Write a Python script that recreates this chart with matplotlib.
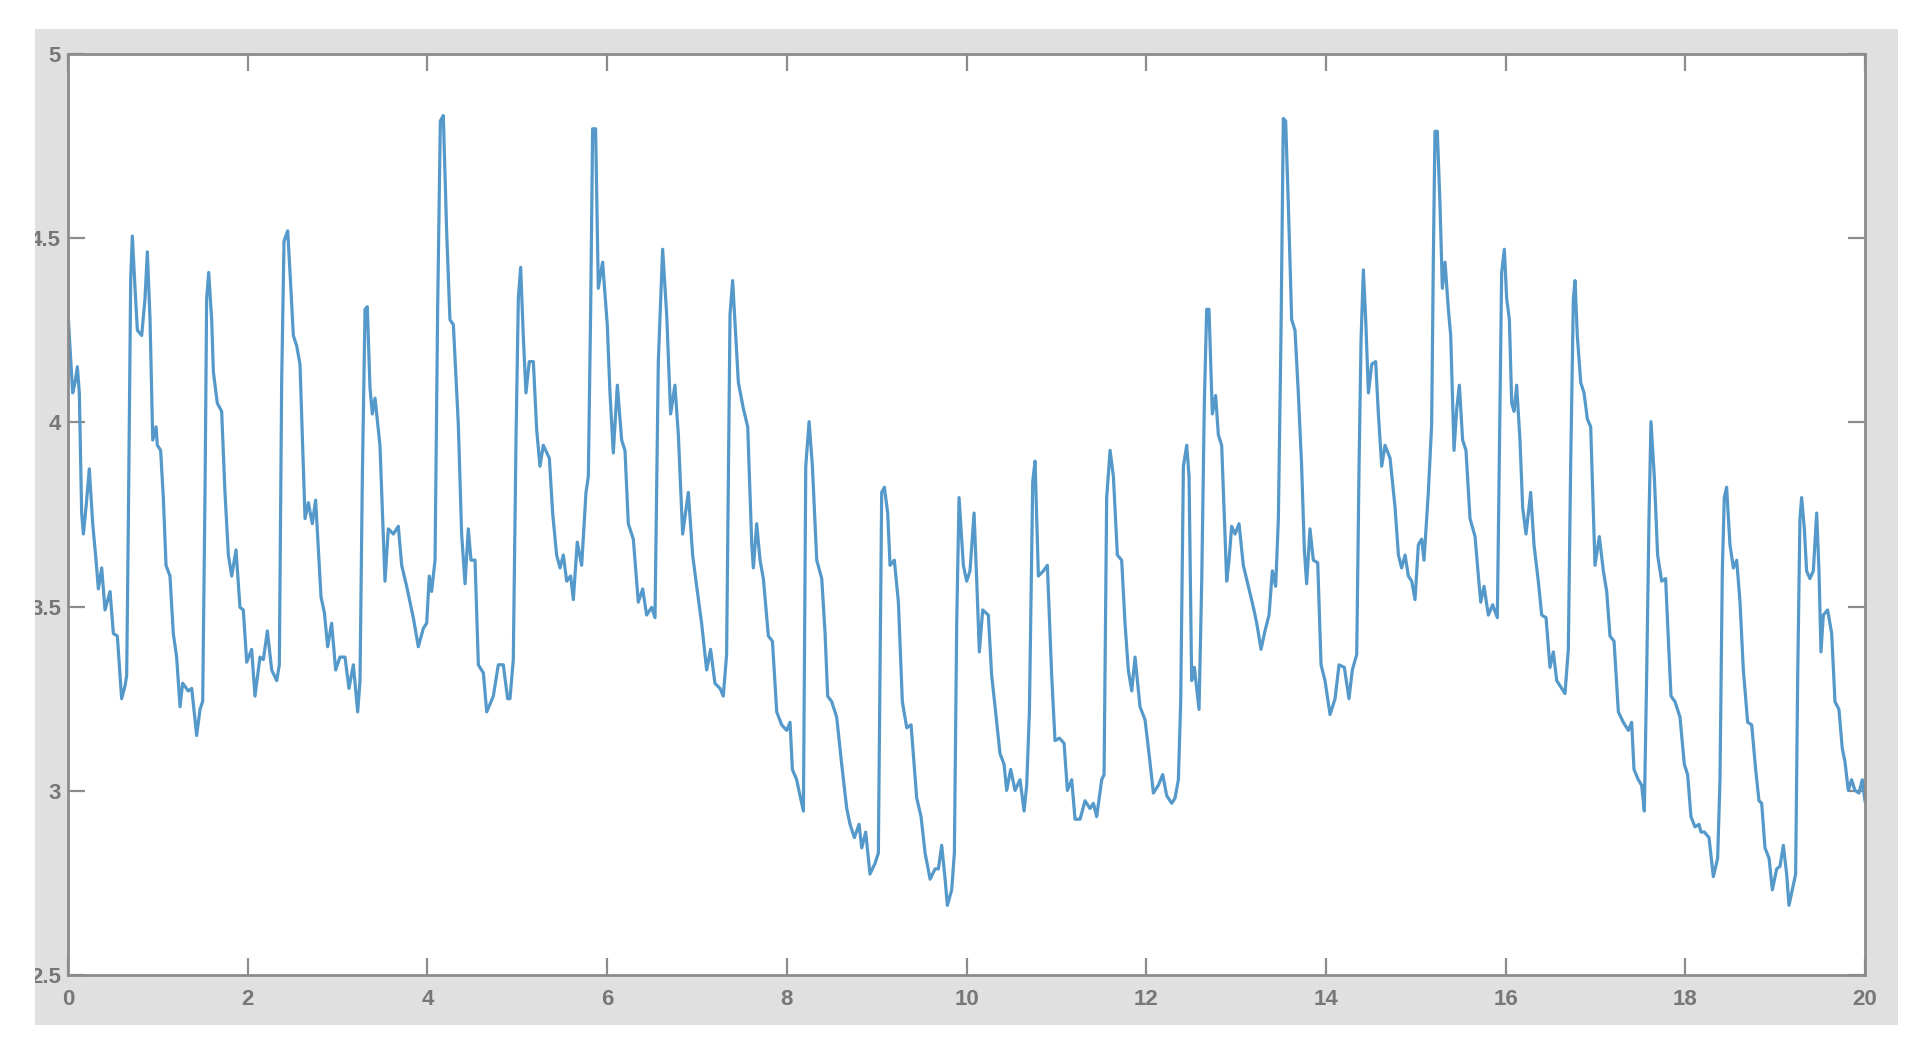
import matplotlib.pyplot as plt
from matplotlib.patches import Rectangle

# signal, time in s
t_s = [
    0.004, 0.052, 0.078, 0.104, 0.126, 0.152, 0.171, 0.200, 0.237, 0.275,
    0.312, 0.338, 0.375, 0.412, 0.468, 0.505, 0.549, 0.597, 0.635, 0.653,
    0.672, 0.698, 0.716, 0.746, 0.772, 0.820, 0.857, 0.883, 0.913, 0.943,
    0.980, 0.994, 1.031, 1.061, 1.091, 1.135, 1.172, 1.209, 1.247, 1.276,
    1.339, 1.377, 1.432, 1.469, 1.499, 1.525, 1.543, 1.566, 1.599, 1.618,
    1.662, 1.710, 1.747, 1.785, 1.822, 1.870, 1.914, 1.951, 1.989, 2.044,
    2.081, 2.137, 2.174, 2.219, 2.267, 2.323, 2.352, 2.378, 2.404, 2.445,
    2.471, 2.508, 2.545, 2.582, 2.638, 2.675, 2.719, 2.756, 2.816, 2.853,
    2.890, 2.934, 2.979, 3.027, 3.083, 3.127, 3.176, 3.202, 3.224, 3.250,
    3.276, 3.306, 3.331, 3.361, 3.387, 3.417, 3.472, 3.528, 3.565, 3.621,
    3.676, 3.714, 3.769, 3.843, 3.899, 3.955, 3.992, 4.021, 4.047, 4.085,
    4.114, 4.144, 4.177, 4.214, 4.251, 4.289, 4.344, 4.381, 4.419, 4.455,
    4.485, 4.530, 4.567, 4.623, 4.660, 4.734, 4.789, 4.845, 4.893, 4.919,
    4.956, 4.986, 5.012, 5.038, 5.067, 5.097, 5.134, 5.179, 5.216, 5.253,
    5.290, 5.357, 5.394, 5.438, 5.476, 5.513, 5.550, 5.594, 5.624, 5.668,
    5.717, 5.765, 5.791, 5.817, 5.839, 5.872, 5.902, 5.950, 6.002, 6.032,
    6.069, 6.114, 6.162, 6.199, 6.236, 6.292, 6.347, 6.396, 6.440, 6.496,
    6.533, 6.570, 6.618, 6.663, 6.707, 6.755, 6.793, 6.841, 6.904, 6.952,
    6.997, 7.052, 7.108, 7.152, 7.200, 7.256, 7.293, 7.330, 7.368, 7.397,
    7.461, 7.517, 7.565, 7.610, 7.628, 7.665, 7.702, 7.739, 7.795, 7.840,
    7.888, 7.943, 7.999, 8.036, 8.062, 8.110, 8.147, 8.185, 8.211, 8.248,
    8.285, 8.333, 8.389, 8.426, 8.455, 8.500, 8.555, 8.611, 8.667, 8.704,
    8.752, 8.804, 8.834, 8.878, 8.926, 8.982, 9.019, 9.056, 9.086, 9.123,
    9.149, 9.197, 9.242, 9.286, 9.335, 9.383, 9.446, 9.494, 9.539, 9.595,
    9.650, 9.687, 9.724, 9.762, 9.787, 9.835, 9.865, 9.891, 9.917, 9.965,
    10.002, 10.039, 10.084, 10.114, 10.143, 10.180, 10.243, 10.280, 10.318, 10.373,
    10.418, 10.447, 10.492, 10.540, 10.596, 10.641, 10.670, 10.700, 10.737, 10.763,
    10.800, 10.856, 10.900, 10.948, 10.985, 11.034, 11.086, 11.123, 11.171, 11.208,
    11.264, 11.319, 11.375, 11.412, 11.449, 11.505, 11.531, 11.560, 11.598, 11.635,
    11.679, 11.727, 11.764, 11.801, 11.839, 11.876, 11.931, 11.987, 12.035, 12.080,
    12.135, 12.184, 12.228, 12.284, 12.321, 12.358, 12.384, 12.414, 12.451, 12.477,
    12.506, 12.536, 12.562, 12.588, 12.618, 12.647, 12.673, 12.699, 12.736, 12.773,
    12.803, 12.840, 12.870, 12.896, 12.922, 12.951, 12.989, 13.033, 13.081, 13.137,
    13.193, 13.230, 13.278, 13.322, 13.367, 13.404, 13.441, 13.471, 13.500, 13.526,
    13.552, 13.582, 13.619, 13.656, 13.693, 13.730, 13.760, 13.786, 13.823, 13.860,
    13.909, 13.946, 13.990, 14.046, 14.102, 14.146, 14.205, 14.257, 14.294, 14.343,
    14.369, 14.391, 14.417, 14.443, 14.473, 14.510, 14.554, 14.584, 14.621, 14.658,
    14.714, 14.770, 14.807, 14.843, 14.881, 14.918, 14.955, 14.992, 15.029, 15.066,
    15.092, 15.140, 15.177, 15.196, 15.214, 15.240, 15.270, 15.296, 15.326, 15.363,
    15.389, 15.426, 15.456, 15.485, 15.522, 15.559, 15.604, 15.660, 15.697, 15.723,
    15.760, 15.808, 15.856, 15.908, 15.930, 15.956, 15.986, 16.012, 16.042, 16.068,
    16.094, 16.123, 16.160, 16.190, 16.227, 16.279, 16.316, 16.364, 16.402, 16.450,
    16.494, 16.531, 16.569, 16.606, 16.661, 16.698, 16.724, 16.754, 16.773, 16.798,
    16.836, 16.873, 16.910, 16.947, 16.995, 17.043, 17.088, 17.125, 17.162, 17.207,
    17.255, 17.310, 17.366, 17.403, 17.429, 17.477, 17.514, 17.544, 17.570, 17.596,
    17.618, 17.655, 17.692, 17.737, 17.781, 17.811, 17.841, 17.885, 17.941, 17.989,
    18.026, 18.063, 18.108, 18.152, 18.175, 18.212, 18.264, 18.312, 18.360, 18.386,
    18.412, 18.434, 18.460, 18.497, 18.535, 18.572, 18.609, 18.646, 18.694, 18.739,
    18.783, 18.820, 18.850, 18.887, 18.932, 18.969, 19.017, 19.054, 19.091, 19.128,
    19.154, 19.191, 19.228, 19.251, 19.276, 19.295, 19.325, 19.350, 19.387, 19.425,
    19.462, 19.488, 19.510, 19.536, 19.584, 19.629, 19.666, 19.710, 19.747, 19.777,
    19.814, 19.851, 19.888, 19.933, 19.970, 20.000,
]
amp = [
    4.279, 4.080, 4.108, 4.151, 4.080, 3.754, 3.697, 3.768, 3.874, 3.725,
    3.626, 3.548, 3.605, 3.491, 3.541, 3.427, 3.420, 3.250, 3.285, 3.313,
    3.739, 4.392, 4.506, 4.364, 4.250, 4.236, 4.336, 4.463, 4.279, 3.952,
    3.988, 3.938, 3.924, 3.796, 3.612, 3.583, 3.427, 3.363, 3.228, 3.292,
    3.271, 3.278, 3.150, 3.221, 3.243, 3.810, 4.336, 4.407, 4.279, 4.137,
    4.052, 4.030, 3.810, 3.640, 3.583, 3.654, 3.498, 3.491, 3.349, 3.384,
    3.257, 3.363, 3.356, 3.434, 3.328, 3.299, 3.342, 4.108, 4.492, 4.520,
    4.407, 4.236, 4.208, 4.158, 3.739, 3.782, 3.725, 3.789, 3.526, 3.484,
    3.391, 3.455, 3.328, 3.363, 3.363, 3.278, 3.342, 3.271, 3.214, 3.299,
    3.853, 4.307, 4.314, 4.094, 4.023, 4.066, 3.938, 3.569, 3.711, 3.697,
    3.718, 3.612, 3.555, 3.470, 3.391, 3.441, 3.455, 3.583, 3.541, 3.626,
    4.307, 4.818, 4.833, 4.520, 4.279, 4.265, 3.995, 3.697, 3.562, 3.711,
    3.626, 3.626, 3.342, 3.320, 3.214, 3.257, 3.342, 3.342, 3.250, 3.250,
    3.356, 3.952, 4.336, 4.421, 4.236, 4.080, 4.165, 4.165, 3.981, 3.881,
    3.938, 3.903, 3.754, 3.640, 3.605, 3.640, 3.569, 3.583, 3.519, 3.675,
    3.612, 3.810, 3.853, 4.307, 4.797, 4.797, 4.364, 4.435, 4.265, 4.080,
    3.917, 4.101, 3.952, 3.924, 3.725, 3.683, 3.512, 3.548, 3.477, 3.498,
    3.470, 4.165, 4.470, 4.293, 4.023, 4.101, 3.966, 3.697, 3.810, 3.640,
    3.555, 3.455, 3.328, 3.384, 3.292, 3.278, 3.257, 3.370, 4.293, 4.385,
    4.108, 4.037, 3.988, 3.668, 3.605, 3.725, 3.626, 3.576, 3.420, 3.406,
    3.214, 3.179, 3.164, 3.186, 3.058, 3.030, 2.987, 2.945, 3.881, 4.002,
    3.881, 3.626, 3.576, 3.427, 3.257, 3.242, 3.200, 3.072, 2.952, 2.909,
    2.873, 2.909, 2.845, 2.888, 2.774, 2.803, 2.831, 3.810, 3.824, 3.754,
    3.612, 3.626, 3.512, 3.242, 3.171, 3.179, 2.980, 2.930, 2.831, 2.760,
    2.788, 2.788, 2.852, 2.760, 2.689, 2.731, 2.831, 3.455, 3.796, 3.612,
    3.569, 3.597, 3.754, 3.569, 3.377, 3.491, 3.477, 3.313, 3.228, 3.101,
    3.072, 3.001, 3.058, 3.001, 3.030, 2.945, 3.015, 3.214, 3.839, 3.895,
    3.583, 3.597, 3.612, 3.313, 3.136, 3.143, 3.129, 3.001, 3.030, 2.923,
    2.923, 2.973, 2.952, 2.966, 2.930, 3.030, 3.044, 3.796, 3.924, 3.853,
    3.640, 3.626, 3.455, 3.328, 3.271, 3.363, 3.228, 3.193, 3.093, 2.994,
    3.015, 3.044, 2.987, 2.966, 2.980, 3.030, 3.242, 3.881, 3.938, 3.853,
    3.299, 3.335, 3.278, 3.221, 3.569, 4.052, 4.307, 4.307, 4.023, 4.073,
    3.966, 3.938, 3.739, 3.569, 3.626, 3.718, 3.697, 3.725, 3.612, 3.555,
    3.498, 3.455, 3.384, 3.434, 3.477, 3.597, 3.555, 3.739, 4.236, 4.825,
    4.818, 4.591, 4.279, 4.250, 4.080, 3.881, 3.654, 3.562, 3.711, 3.626,
    3.619, 3.342, 3.299, 3.207, 3.250, 3.342, 3.335, 3.250, 3.328, 3.370,
    3.881, 4.222, 4.414, 4.279, 4.080, 4.158, 4.165, 4.023, 3.881, 3.938,
    3.903, 3.768, 3.640, 3.605, 3.640, 3.583, 3.569, 3.519, 3.668, 3.683,
    3.626, 3.810, 3.995, 4.449, 4.790, 4.790, 4.591, 4.364, 4.435, 4.307,
    4.236, 3.924, 4.037, 4.101, 3.952, 3.924, 3.739, 3.690, 3.583, 3.512,
    3.555, 3.477, 3.505, 3.470, 3.910, 4.407, 4.470, 4.336, 4.279, 4.052,
    4.030, 4.101, 3.952, 3.768, 3.697, 3.810, 3.668, 3.569, 3.477, 3.470,
    3.335, 3.377, 3.299, 3.285, 3.264, 3.384, 3.881, 4.336, 4.385, 4.236,
    4.108, 4.080, 4.009, 3.988, 3.612, 3.690, 3.597, 3.541, 3.420, 3.406,
    3.214, 3.186, 3.164, 3.186, 3.058, 3.030, 3.015, 2.945, 3.313, 3.739,
    4.002, 3.853, 3.640, 3.569, 3.576, 3.413, 3.257, 3.242, 3.200, 3.072,
    3.044, 2.930, 2.902, 2.909, 2.888, 2.888, 2.873, 2.767, 2.817, 3.030,
    3.597, 3.796, 3.824, 3.668, 3.605, 3.626, 3.512, 3.328, 3.186, 3.179,
    3.058, 2.973, 2.966, 2.845, 2.817, 2.731, 2.788, 2.795, 2.852, 2.774,
    2.689, 2.731, 2.774, 3.313, 3.739, 3.796, 3.711, 3.597, 3.576, 3.597,
    3.754, 3.597, 3.377, 3.477, 3.491, 3.427, 3.242, 3.221, 3.115, 3.079,
    3.001, 3.030, 3.001, 2.994, 3.030, 2.973,
]

x_ticks = [0, 2, 4, 6, 8, 10, 12, 14, 16, 18, 20]
y_ticks = [2.5, 3, 3.5, 4, 4.5, 5]
y_labels = ['2.5', '3', '3.5', '4', '4.5', '5']

W, H = 1926, 1052
fig = plt.figure(figsize=(W / 100, H / 100), dpi=100, facecolor='white')

# grey frame of the matlab window
fig.patches.append(Rectangle((35 / W, 1 - 1025 / H), (1898 - 35) / W, (1025 - 29) / H,
                             transform=fig.transFigure, facecolor='#e0e0e0',
                             edgecolor='none', zorder=-5))

ax = fig.add_axes([68 / W, 1 - 975 / H, (1865 - 68) / W, (975 - 54) / H])
ax.set_facecolor('white')
ax.plot(t_s, amp, color='#5499c9', linewidth=2.3, solid_joinstyle='round')

ax.set_xlim(0, 20)
ax.set_ylim(2.5, 5)
ax.set_xticks(x_ticks)
ax.set_xticklabels([str(v) for v in x_ticks])
ax.set_yticks(y_ticks)
ax.set_yticklabels(y_labels)

grey = '#8c8c8c'
for s in ax.spines.values():
    s.set_color(grey)
    s.set_linewidth(2.0)
ax.tick_params(axis='both', direction='in', length=12, width=1.6, color=grey,
               top=True, right=True, labelcolor='#777777', labelsize=16)
ax.tick_params(axis='x', pad=10)
ax.tick_params(axis='y', pad=5)
for lab in ax.get_xticklabels() + ax.get_yticklabels():
    lab.set_fontweight('bold')
    lab.set_family('Liberation Sans')

# screenshot was cropped at the grey edge on the left
fig.patches.append(Rectangle((0, 0), 35 / W, 1, transform=fig.transFigure,
                             facecolor='white', edgecolor='none', zorder=10))

fig.savefig('out.png', dpi=100, facecolor='white')
